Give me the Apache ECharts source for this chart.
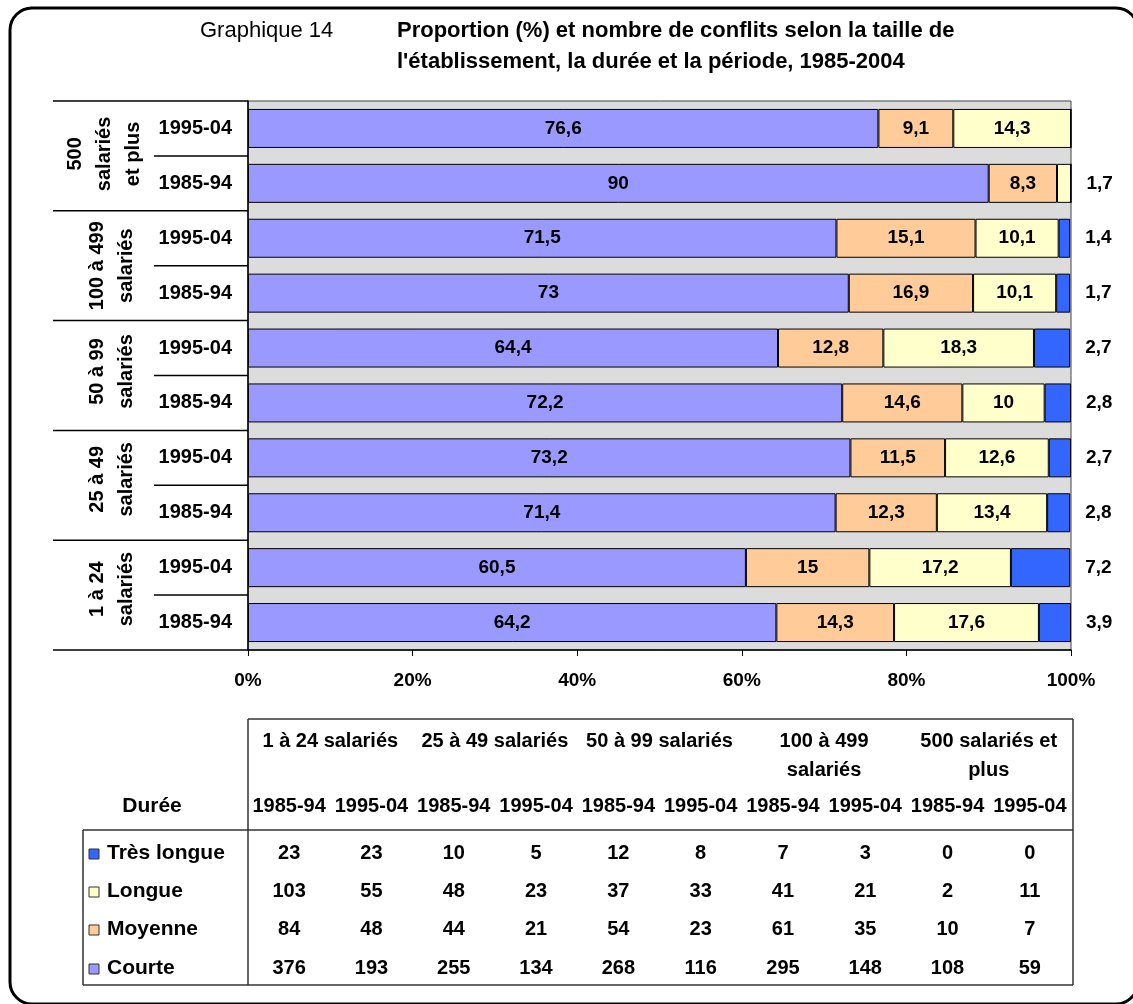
<!DOCTYPE html>
<html>
<head>
<meta charset="utf-8">
<script src="https://cdn.jsdelivr.net/npm/echarts@6/dist/echarts.min.js"></script>
<style>
html, body { margin: 0; padding: 0; background: #fff; }
#graphique { width: 1133px; height: 1004px; }
</style>
</head>
<body>
<div id="graphique"></div>
<script>
// catégories, du bas vers le haut
const periodes = ['1985-94', '1995-04', '1985-94', '1995-04', '1985-94', '1995-04', '1985-94', '1995-04', '1985-94', '1995-04'];
const tailles = ['1 à 24\nsalariés', '25 à 49\nsalariés', '50 à 99\nsalariés', '100 à 499\nsalariés', '500\nsalariés\net plus'];
const taillesTableau = ['1 à 24 salariés', '25 à 49 salariés', '50 à 99 salariés', '100 à 499\nsalariés', '500 salariés et\nplus'];
const durees = ['Très longue', 'Longue', 'Moyenne', 'Courte'];
const couleurs = ['#3366ff', '#ffffcc', '#ffcc99', '#9999ff'];

// proportions (%)
const courte = [64.2, 60.5, 71.4, 73.2, 72.2, 64.4, 73, 71.5, 90, 76.6];
const moyenne = [14.3, 15, 12.3, 11.5, 14.6, 12.8, 15.1, 16.9, 8.3, 9.1];
const longue = [17.6, 17.2, 13.4, 12.6, 10, 18.3, 10.1, 10.1, 1.7, 14.3];
const tresLongue = [3.9, 7.2, 2.8, 2.7, 3.2, 4.4, 1.7, 1.4, 0, 0];

// étiquettes telles qu'imprimées sur le graphique d'origine
const moyenneEtiq = [14.3, 15, 12.3, 11.5, 14.6, 12.8, 16.9, 15.1, 8.3, 9.1];
const droiteEtiq = ['3,9', '7,2', '2,8', '2,7', '2,8', '2,7', '1,7', '1,4', '1,7', ''];

// nombre de conflits (tableau)
const nbTresLongue = [23, 23, 10, 5, 12, 8, 7, 3, 0, 0];
const nbLongue = [103, 55, 48, 23, 37, 33, 41, 21, 2, 11];
const nbMoyenne = [84, 48, 44, 21, 54, 23, 61, 35, 10, 7];
const nbCourte = [376, 193, 255, 134, 268, 116, 295, 148, 108, 59];

const police = '"Liberation Sans", Arial, sans-serif';
const gras = (t) => 'bold ' + t + 'px ' + police;
const virgule = (v) => String(v).replace('.', ',');

let chart = null;

function serie(nom, data, couleur, formatter) {
    return {
        name: nom,
        type: 'bar',
        stack: 'total',
        data: data,
        barWidth: 39,
        itemStyle: { color: couleur, borderColor: '#000', borderWidth: 1 },
        label: {
            show: true,
            position: 'inside',
            color: '#000',
            fontFamily: police,
            fontWeight: 'bold',
            fontSize: 19,
            formatter: formatter
        }
    };
}

let option = {
    animation: false,
    backgroundColor: '#fff',
    grid: {
        left: 248, right: 62, top: 101, bottom: 354,
        show: true,
        backgroundColor: '#dcdcdc',
        borderColor: '#444',
        borderWidth: 1
    },
    xAxis: {
        type: 'value',
        min: 0, max: 100, interval: 20,
        axisLine: { show: true, lineStyle: { color: '#000', width: 1.5 } },
        axisTick: { show: true, length: 6, lineStyle: { color: '#000' } },
        splitLine: { show: false },
        axisLabel: { formatter: '{value}%', color: '#000', fontFamily: police, fontWeight: 'bold', fontSize: 19, margin: 21 }
    },
    yAxis: {
        type: 'category',
        data: periodes,
        axisLine: { show: true, lineStyle: { color: '#000', width: 1.5 } },
        axisTick: { show: false },
        axisLabel: { color: '#000', fontFamily: police, fontWeight: 'bold', fontSize: 20, margin: 16 }
    },
    series: [
        serie('Courte', courte, couleurs[3], p => virgule(p.value)),
        serie('Moyenne', moyenne, couleurs[2], p => virgule(moyenneEtiq[p.dataIndex])),
        serie('Longue', longue, couleurs[1], p => (p.value >= 5 ? virgule(p.value) : '')),
        serie('Très longue', tresLongue, couleurs[0], p => droiteEtiq[p.dataIndex])
    ]
};
option.series[3].label.position = 'right';
option.series[3].label.distance = 15;

function dessinerDecor() {
    const yPx = (i) => chart.convertToPixel({ yAxisIndex: 0 }, i);
    const x0 = chart.convertToPixel({ xAxisIndex: 0 }, 0);
    const x100 = chart.convertToPixel({ xAxisIndex: 0 }, 100);
    const bande = yPx(0) - yPx(1);
    const elems = [];
    const ligne = (x1, y1, x2, y2, w, c) => elems.push({
        type: 'line', silent: true,
        shape: { x1: x1, y1: y1, x2: x2, y2: y2 },
        style: { stroke: c || '#000', lineWidth: w || 1.5 }
    });
    const texte = (t, x, y, font, align, vAlign, extra) => elems.push(Object.assign({
        type: 'text', x: x, y: y, silent: true,
        style: { text: t, font: font, fill: '#000', align: align || 'center', verticalAlign: vAlign || 'middle', lineHeight: 29 }
    }, extra || {}));

    // cadre arrondi
    elems.push({ type: 'rect', silent: true, shape: { x: 10, y: 8, width: 1128, height: 996, r: 22 },
        style: { fill: null, stroke: '#000', lineWidth: 3 } });

    // titres
    texte('Graphique 14', 200, 31, '22px ' + police, 'left');
    texte("Proportion (%) et nombre de conflits selon la taille de", 397, 31, gras(22), 'left');
    texte("l'établissement, la durée et la période, 1985-2004", 397, 62, gras(22), 'left');

    // séparateurs des catégories
    ligne(53, yPx(9) - bande / 2, x0, yPx(9) - bande / 2);
    for (let i = 0; i < periodes.length; i++) {
        const yb = yPx(i) + bande / 2;
        ligne(i % 2 === 0 ? 53 : 154, yb, x0, yb);
    }
    // libellés des tailles (verticaux)
    const decalage = [-6, -6, -4, 0, -2];
    for (let g = 0; g < tailles.length; g++) {
        const yc = (yPx(2 * g) + yPx(2 * g + 1)) / 2;
        texte(tailles[g], g === 4 ? 104 : 112, yc + decalage[g], gras(20), 'center', 'middle', { rotation: Math.PI / 2 });
    }

    // tableau des effectifs
    const colW = (x100 - x0) / 10;
    const colX = (i) => x0 + (i + 0.5) * colW;
    const droite = x0 + 10 * colW + 2;
    ligne(x0, 719, droite, 719, 1.5, '#333');
    ligne(x0, 719, x0, 985, 1.5, '#333');
    ligne(droite, 719, droite, 985, 1.5, '#333');
    ligne(83, 830, droite, 830, 1.5, '#333');
    ligne(83, 830, 83, 985, 1.5, '#333');
    ligne(83, 985, droite, 985, 1.5, '#333');

    for (let g = 0; g < taillesTableau.length; g++) {
        texte(taillesTableau[g], x0 + (2 * g + 1) * colW, 727, gras(20), 'center', 'top');
    }
    texte('Durée', 152, 806, gras(21));
    for (let i = 0; i < periodes.length; i++) {
        texte(periodes[i], colX(i), 806, gras(20));
    }
    const nombres = [nbTresLongue, nbLongue, nbMoyenne, nbCourte];
    const rangY = [853, 891, 929, 968];
    for (let r = 0; r < durees.length; r++) {
        elems.push({ type: 'rect', silent: true, shape: { x: 89, y: rangY[r] - 4, width: 10, height: 10 },
            style: { fill: couleurs[r], stroke: '#333', lineWidth: 1 } });
        texte(durees[r], 107, rangY[r], gras(21), 'left');
        for (let i = 0; i < periodes.length; i++) {
            texte(String(nombres[r][i]), colX(i), rangY[r], gras(20));
        }
    }
    chart.setOption({ graphic: elems });
}

chart = echarts.init(document.getElementById('graphique'));
chart.setOption(option);
dessinerDecor();
</script>
</body>
</html>
